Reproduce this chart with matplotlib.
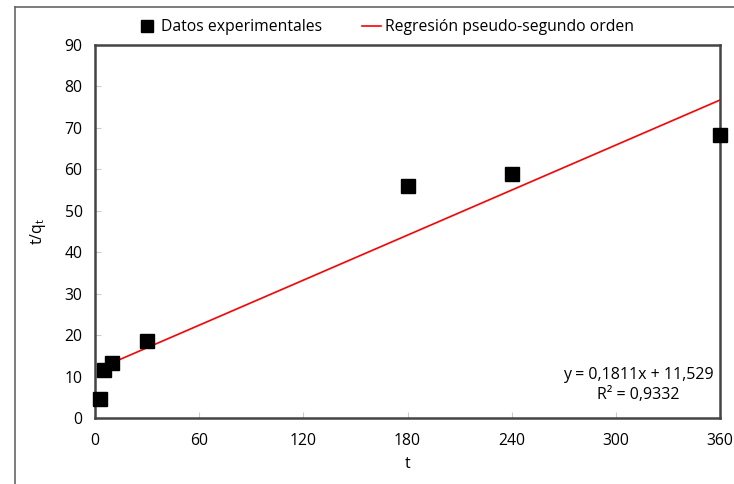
import numpy as np
import matplotlib.pyplot as plt
from matplotlib.lines import Line2D

plt.rcParams['font.family'] = ['Open Sans', 'DejaVu Sans']

# experimental data
t = [3, 5, 10, 30, 180, 240, 360]
tq = [4.6, 11.5, 13.2, 18.6, 56.0, 58.8, 68.3]

# pseudo-second order fit
slope = 0.1811
intercept = 11.529
r2 = 0.9332

xticks = [0, 60, 120, 180, 240, 300, 360]
yticks = list(range(0, 100, 10))

fig = plt.figure(figsize=(7.34, 4.84), dpi=100)
ax = fig.add_axes([95/734, 1 - 418/484, 625/734, 373/484])

fit_x = np.array([t[0], t[-1]])
ax.plot(fit_x, slope * fit_x + intercept, color='red', lw=1.2, zorder=2)
ax.plot(t, tq, 's', color='black', ms=10, zorder=3, clip_on=False)

ax.set_xlim(0, 360)
ax.set_ylim(0, 90)
ax.set_xticks(xticks)
ax.set_yticks(yticks)
ax.tick_params(direction='in', length=4, color='#cccccc', labelsize=11.3)
ax.tick_params(axis='x', pad=11)
ax.tick_params(axis='y', pad=9)
for s in ax.spines.values():
    s.set_color('#444444')
    s.set_linewidth(1.8)

ax.set_xlabel('t', fontsize=11.3, labelpad=5)
ax.set_ylabel('t/q$_\\mathregular{t}$', fontsize=11.3, labelpad=12)

eq = 'y = 0,%sx + %s\nR² = %s' % (str(slope)[2:], str(intercept).replace('.', ','),
                                 str(r2).replace('.', ','))
ax.text(0.99, 0.04, eq, transform=ax.transAxes, ha='right', va='bottom',
        fontsize=11.5, multialignment='center', linespacing=1.35)

handles = [Line2D([], [], marker='s', ls='none', color='black', ms=8),
           Line2D([], [], color='red', lw=1.2)]
fig.legend(handles, ['Datos experimentales', 'Regresión pseudo-segundo orden'],
           loc='center', bbox_to_anchor=(386/734, 1 - 27/484), ncol=2, frameon=False,
           fontsize=11.3, handlelength=1.2, handletextpad=0.3, columnspacing=2.5)

# outer chart border
fig.add_artist(Line2D([15/734, 15/734], [0, 1 - 7/484], color='#666666', lw=1.2))
fig.add_artist(Line2D([15/734, 1], [1 - 7/484, 1 - 7/484], color='#666666', lw=1.2))

fig.savefig('out.png', dpi=100)
